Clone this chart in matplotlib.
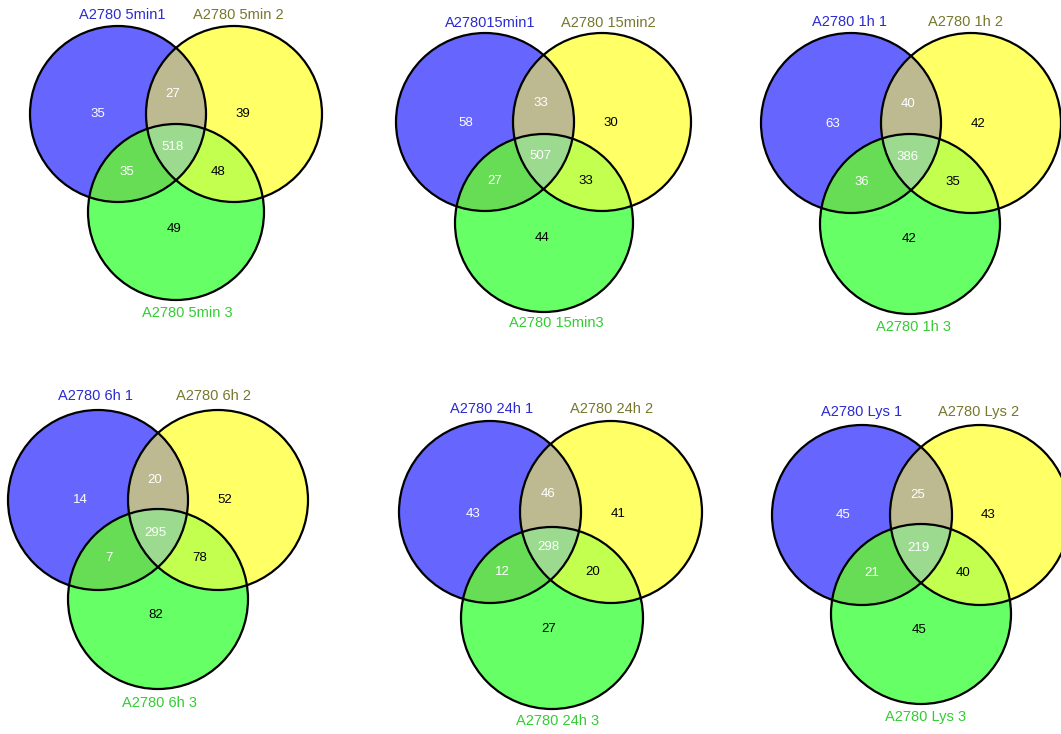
import numpy as np
import matplotlib
matplotlib.use("Agg")
import matplotlib.pyplot as plt
from matplotlib.colors import ListedColormap
from matplotlib.patches import Circle

plt.rcParams['font.family'] = ['Liberation Sans', 'DejaVu Sans']

# set names per diagram (circle 1, circle 2, circle 3)
names_1 = ["A2780 5min1", "A278015min1", "A2780 1h 1", "A2780 6h 1", "A2780 24h 1", "A2780 Lys 1"]
names_2 = ["A2780 5min 2", "A2780 15min2", "A2780 1h 2", "A2780 6h 2", "A2780 24h 2", "A2780 Lys 2"]
names_3 = ["A2780 5min 3", "A2780 15min3", "A2780 1h 3", "A2780 6h 3", "A2780 24h 3", "A2780 Lys 3"]

# region counts: only 1, 1&2, only 2, all three, 1&3, 2&3, only 3
only_1 = [35, 58, 63, 14, 43, 45]
both_12 = [27, 33, 40, 20, 46, 25]
only_2 = [39, 30, 42, 52, 41, 43]
all_123 = [518, 507, 386, 295, 298, 219]
both_13 = [35, 27, 36, 7, 12, 21]
both_23 = [48, 33, 35, 78, 20, 40]
only_3 = [49, 44, 42, 82, 27, 45]

# circle centres (pixel space) and radius for each diagram
centres = [
    [(118, 114), (234, 114), (176, 212), 88],
    [(485, 122), (602, 122), (544, 223), 89],
    [(851, 123), (971, 123), (910, 224), 90],
    [(98, 500), (218, 500), (158, 599), 90],
    [(490, 512), (611, 512), (552, 618), 91],
    [(862, 515), (980, 515), (921, 614), 90],
]
# set-name positions
name_pos = [
    [(122, 15), (238, 15), (187, 313)],
    [(490, 23), (608, 23), (556, 323)],
    [(849, 22), (966, 22), (913, 327)],
    [(96, 396), (214, 396), (160, 703)],
    [(492, 409), (612, 409), (558, 721)],
    [(862, 412), (979, 412), (926, 717)],
]
# count positions relative to the centroid of the three centres
count_offsets = [(-78, -33), (-3, -53), (67, -33), (-3, 0), (-49, 25), (42, 25), (-2, 82)]
count_colours = ['white', 'white', 'black', 'white', 'white', 'black', 'black']
name_colours = ['#2b2bd0', '#77772e', '#33cc33']

# fill colour by membership code (1 + 2 + 4)
region_colours = ['white', '#6666ff', '#ffff66', '#bdba92',
                  '#66ff66', '#66dd55', '#c2ff4f', '#9bda8f']

W, H = 1061, 734
fig = plt.figure(figsize=(W / 100, H / 100), dpi=100)
ax = fig.add_axes([0, 0, 1, 1])
ax.set_xlim(0, W)
ax.set_ylim(H, 0)
ax.axis('off')

step = 0.5
xs = np.arange(0, W, step) + step / 2
ys = np.arange(0, H, step) + step / 2
gx, gy = np.meshgrid(xs, ys)
code = np.zeros(gx.shape, dtype=int)
for a, b, c, r in centres:
    for bit, (cx, cy) in zip((1, 2, 4), (a, b, c)):
        inside = (gx - cx) ** 2 + (gy - cy) ** 2 <= r ** 2
        code[inside] |= bit

ax.imshow(code, cmap=ListedColormap(region_colours), vmin=-0.5, vmax=7.5,
          extent=(0, W, H, 0), interpolation='nearest', aspect='auto')

for i, (a, b, c, r) in enumerate(centres):
    for cx, cy in (a, b, c):
        ax.add_patch(Circle((cx, cy), r, fill=False, ec='black', lw=1.6))
    mx = (a[0] + b[0] + c[0]) / 3
    my = (a[1] + b[1] + c[1]) / 3
    counts = [only_1[i], both_12[i], only_2[i], all_123[i],
              both_13[i], both_23[i], only_3[i]]
    for val, (dx, dy), col in zip(counts, count_offsets, count_colours):
        ax.text(mx + dx, my + dy, str(val), color=col, fontsize=9.5,
                ha='center', va='center')
    for name, (tx, ty), col in zip((names_1[i], names_2[i], names_3[i]),
                                   name_pos[i], name_colours):
        ax.text(tx, ty, name, color=col, fontsize=10.5, ha='center', va='center')

fig.savefig('out.png', dpi=100)
